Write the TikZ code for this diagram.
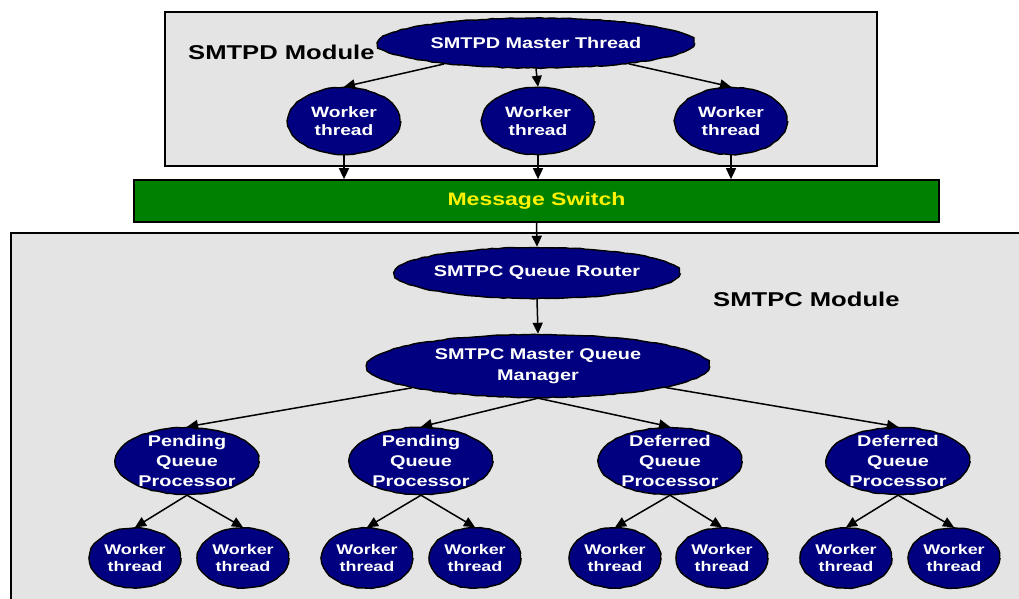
\documentclass[tikz,border=0pt]{standalone}
\usepackage{fontspec}
\setmainfont{Liberation Sans}[FakeStretch=1.28]
\usepackage{xcolor}
\usetikzlibrary{arrows.meta,positioning,shapes.geometric,decorations.pathmorphing}
\definecolor{navy}{HTML}{000080}
\definecolor{panelgray}{HTML}{E4E4E4}
\definecolor{switchgreen}{HTML}{008000}

\begin{document}
\begin{tikzpicture}[x=1pt,y=-1pt,
  panel/.style={draw,fill=panelgray,line width=1.9pt},
  blob/.style={ellipse,draw,fill=navy,line width=1.4pt,text=white,align=center,
    inner xsep=-4pt,inner ysep=-14pt,
    decorate,decoration={random steps,segment length=5pt,amplitude=0.45pt}},
  bigblob/.style={blob,font=\bfseries\fontsize{15.5}{21}\selectfont},
  topwk/.style={blob,minimum width=112pt,minimum height=67pt,font=\bfseries\fontsize{15}{18}\selectfont},
  proc/.style={blob,minimum width=143pt,minimum height=67pt,font=\bfseries\fontsize{15.5}{20}\selectfont},
  botwk/.style={blob,minimum width=91pt,minimum height=60pt,font=\bfseries\fontsize{14}{17}\selectfont},
  modlabel/.style={anchor=base west,inner sep=0pt,font=\bfseries\fontsize{20}{24}\selectfont},
  arr/.style={-{Triangle[length=11pt,width=10pt]},line width=1.5pt}]
\pgfmathsetseed{11}
\useasboundingbox (0,0) rectangle (1019,599);

% module panels
\draw[panel] (165,12) rectangle (877,166);
\draw[panel] (11,233) rectangle (1040,625);
\node[modlabel] (smtpdlbl) at (188,60) {SMTPD Module};
\node[modlabel] (smtpclbl) at (713,306) {SMTPC Module};

% SMTPD side
\node[bigblob,minimum width=316pt,minimum height=50pt] (mthread) at (536,43) {SMTPD Master Thread};
\foreach \x [count=\i] in {344,538,731}
  \node[topwk] (tw\i) at (\x,121) {Worker\\thread};

% message switch
\node[draw,fill=switchgreen,line width=1.7pt,minimum width=805pt,minimum height=42pt,inner sep=0pt,
  text=yellow,font=\bfseries\fontsize{18}{22}\selectfont] (switch) at (536.5,201) {Message Switch};

% SMTPC side
\node[bigblob,minimum width=285pt,minimum height=51pt] (router) at (537,273) {SMTPC Queue Router};
\node[bigblob,minimum width=342pt,minimum height=63pt] (mqm) at (538,366) {SMTPC Master Queue\\Manager};
\foreach \x/\kind [count=\i] in {187/Pending,421/Pending,670/Deferred,898/Deferred}
  \node[proc] (pq\i) at (\x,461) {\kind\\Queue\\Processor};
\foreach \x [count=\i] in {135,243,367,475,615,722,846,954}
  \node[botwk] (bw\i) at (\x,558) {Worker\\thread};

% connectors
\draw[arr] (mthread) -- (tw1.north);
\draw[arr] (mthread.south) -- (tw2.north);
\draw[arr] (mthread) -- (tw3.north);
\foreach \i in {1,2,3}
  \draw[arr] (tw\i.south) -- (tw\i.south |- switch.north);
\draw[arr] (switch.south) -- (router.north);
\draw[arr] (router.south) -- (mqm.north);
\draw[arr] (mqm) -- (pq1.north);
\draw[arr] (mqm.south) -- (pq2.north);
\draw[arr] (mqm.south) -- (pq3.north);
\draw[arr] (mqm) -- (pq4.north);
\foreach \p/\a/\b in {1/1/2,2/3/4,3/5/6,4/7/8}{
  \draw[arr] (pq\p.south) -- (bw\a.north);
  \draw[arr] (pq\p.south) -- (bw\b.north);
}
\end{tikzpicture}
\end{document}
